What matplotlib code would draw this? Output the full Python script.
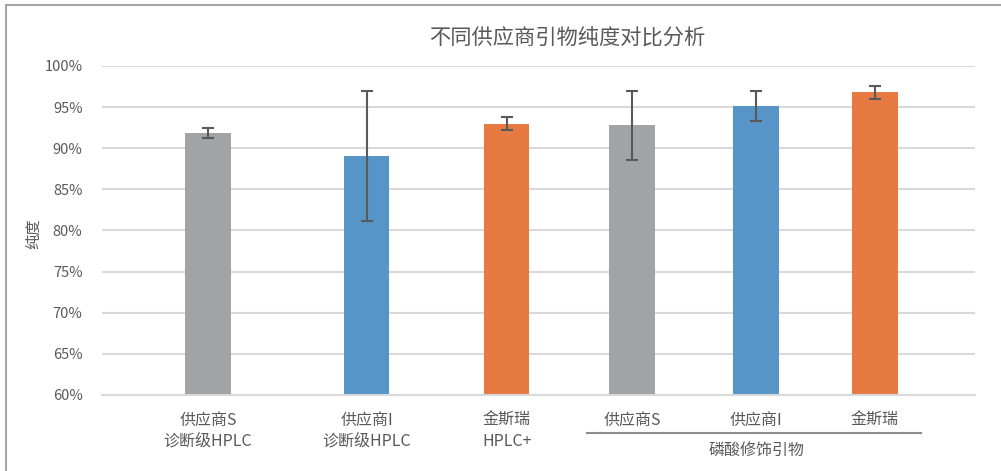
import numpy as np
import matplotlib
matplotlib.use("Agg")
import matplotlib.pyplot as plt
from matplotlib.lines import Line2D
from matplotlib.ticker import FuncFormatter, MultipleLocator

plt.rcParams["font.family"] = ["Noto Sans CJK SC", "DejaVu Sans"]

# data
categories = ["供应商S\n诊断级HPLC", "供应商I\n诊断级HPLC", "金斯瑞\nHPLC+",
              "供应商S", "供应商I", "金斯瑞"]
group_label = "磷酸修饰引物"
purity = [91.8, 89.0, 93.0, 92.8, 95.1, 96.8]
purity_err = [0.6, 7.9, 0.8, 4.2, 1.8, 0.8]
title = "不同供应商引物纯度对比分析"
ylabel = "纯度"

# layout (slot centres on the category axis, as spaced in the reference)
slot_pos = [0, 1.19, 2.24, 3.18, 4.11, 5.0]
bar_colors = ["#A2A3A6", "#5795C9", "#E67A42", "#A2A3A6", "#5795C9", "#E67A42"]
text_color = "#595959"
grid_color = "#D9D9D9"

fig = plt.figure(figsize=(10.01, 4.71), dpi=100)
ax = fig.add_axes([0.1019, 0.1614, 0.872, 0.6985])

ax.bar(slot_pos, purity, width=0.34, color=bar_colors, zorder=2, bottom=0)
ax.errorbar(slot_pos, purity, yerr=purity_err, fmt="none", ecolor="#595959",
            elinewidth=1.5, capsize=4, capthick=1.5, zorder=3)

ax.set_ylim(60, 100)
ax.set_xlim(-0.795, 5.75)
ax.yaxis.set_major_locator(MultipleLocator(5))
ax.yaxis.set_major_formatter(FuncFormatter(lambda v, p: f"{v:.0f}%"))
ax.grid(axis="y", color=grid_color, linewidth=1.5, zorder=0)
ax.set_axisbelow(True)

for s in ["top", "right", "left"]:
    ax.spines[s].set_visible(False)
ax.spines["bottom"].set_color(grid_color)
ax.spines["bottom"].set_linewidth(1.5)

ax.set_xticks(slot_pos)
ax.set_xticklabels(categories, fontsize=11.5, color=text_color, linespacing=1.3)
ax.tick_params(axis="x", length=0, pad=12)
ax.tick_params(axis="y", length=0, pad=14, labelsize=10.5, labelcolor=text_color)

ax.set_ylabel(ylabel, fontsize=11, color=text_color)
ax.yaxis.set_label_coords(-0.069, 0.49)

# group line + label under the last three categories
trans = ax.get_xaxis_transform()
ax.plot([slot_pos[3] - 0.34, slot_pos[5] + 0.345], [-0.116, -0.116],
        transform=trans, color="#8C8C8C", linewidth=1.5, clip_on=False)
ax.text(slot_pos[4], -0.17, group_label, transform=trans, ha="center",
        va="center", fontsize=11.5, color=text_color)

fig.text(0.567, 0.918, title, ha="center", va="center", fontsize=15.3,
         color=text_color)

# chart-area border (top and left visible in the reference)
fig.add_artist(Line2D([0.0055, 0.0055], [0, 0.989], color="#A6A6A6",
                      linewidth=1.5, transform=fig.transFigure))
fig.add_artist(Line2D([0.0055, 1], [0.989, 0.989], color="#A6A6A6",
                      linewidth=1.5, transform=fig.transFigure))

fig.savefig("out.png", dpi=100)
